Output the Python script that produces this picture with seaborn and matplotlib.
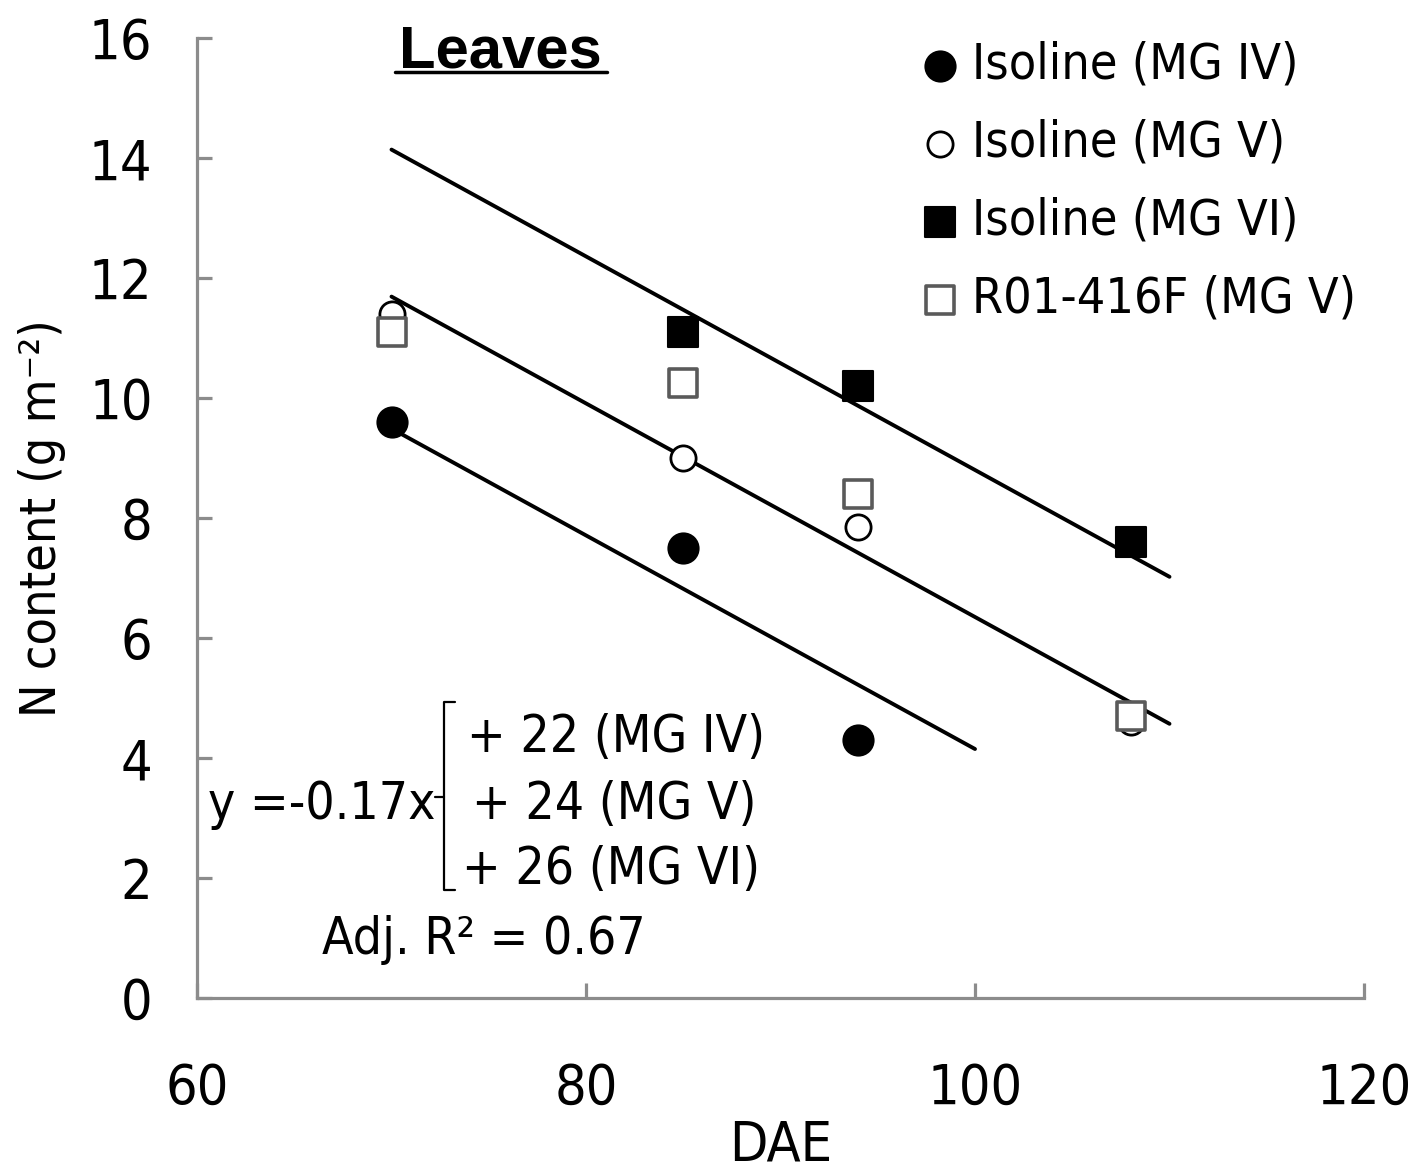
import matplotlib
matplotlib.use("Agg")
import matplotlib.pyplot as plt
import seaborn as sns
import numpy as np
import pandas as pd

# ---- data ----
series_names = ["Isoline (MG IV)", "Isoline (MG V)", "Isoline (MG VI)", "R01-416F (MG V)"]
dae_mg4 = [70, 85, 94]
n_mg4 = [9.6, 7.5, 4.3]
dae_mg5 = [70, 85, 94, 108]
n_mg5 = [11.4, 9.0, 7.85, 4.6]
dae_mg6 = [85, 94, 108]
n_mg6 = [11.1, 10.2, 7.6]
dae_r01 = [70, 85, 94, 108]
n_r01 = [11.1, 10.25, 8.4, 4.7]

# regression lines (common slope, separate intercepts)
fit_slope = -0.178
fit_intercepts = [21.95, 24.15, 26.6]
fit_x_ranges = [(70, 100), (70, 110), (70, 110)]

x_ticks = [60, 80, 100, 120]
y_ticks = [0, 2, 4, 6, 8, 10, 12, 14, 16]

eq_lines = ["+ 22 (MG IV)", "+ 24 (MG V)", "+ 26 (MG VI)"]

# ---- style ----
sns.set_theme(style="white")
plt.rcParams['font.family'] = ['DejaVu Sans']
plt.rcParams['font.stretch'] = 'condensed'
plt.rcParams['text.color'] = 'black'
plt.rcParams['axes.labelcolor'] = 'black'

fig = plt.figure(figsize=(14.16, 11.75), dpi=100)
ax = fig.add_axes([197/1416, 1 - 998/1175, (1364-197)/1416, (998-38)/1175])

spine_c = "#8c8c8c"

# regression lines
for b, (x0, x1) in zip(fit_intercepts, fit_x_ranges):
    xs = np.array([x0, x1], dtype=float)
    df_line = pd.DataFrame({"x": xs, "y": b + fit_slope * xs})
    sns.lineplot(data=df_line, x="x", y="y", ax=ax, color="black", linewidth=2.8, zorder=2)

# scatter series
styles = [
    dict(marker="o", s=470, facecolor="black", edgecolor="black", linewidth=1.5),
    dict(marker="o", s=330, facecolor="white", edgecolor="black", linewidth=2.0),
    dict(marker="s", s=450, facecolor="black", edgecolor="black", linewidth=1.5),
    dict(marker="s", s=400, facecolor="white", edgecolor="#5a5a5a", linewidth=2.6),
]
datasets = [(dae_mg4, n_mg4), (dae_mg5, n_mg5), (dae_mg6, n_mg6), (dae_r01, n_r01)]
for name, (xv, yv), st in zip(series_names, datasets, styles):
    df = pd.DataFrame({"x": xv, "y": yv})
    sns.scatterplot(data=df, x="x", y="y", ax=ax, label=name, zorder=3,
                    marker=st["marker"], s=st["s"], color=st["facecolor"],
                    edgecolor=st["edgecolor"], linewidth=st["linewidth"])

ax.set_xlim(60, 120)
ax.set_ylim(0, 16)
ax.set_xticks(x_ticks)
ax.set_yticks(y_ticks)
ax.set_xticklabels([str(t) for t in x_ticks])
ax.set_yticklabels([str(t) for t in y_ticks])

for s in ["top", "right"]:
    ax.spines[s].set_visible(False)
for s in ["left", "bottom"]:
    ax.spines[s].set_color(spine_c)
    ax.spines[s].set_linewidth(2.3)
ax.tick_params(axis="both", direction="in", length=11, width=2.3, color=spine_c,
               labelsize=40, labelcolor="black", bottom=True, left=True)
ax.tick_params(axis="x", pad=46)
ax.tick_params(axis="y", pad=32)

ax.set_xlabel("DAE", fontsize=40, labelpad=2)
ax.set_ylabel("N content (g m⁻²)", fontsize=36)
ax.yaxis.set_label_coords(-0.112, 0.5)

# legend
leg = ax.legend(loc="upper left", bbox_to_anchor=((920-197)/1167, 0.997), frameon=False,
                fontsize=36, handlelength=0.8, handletextpad=0.25, labelspacing=0.6,
                borderaxespad=0.0, borderpad=0.0, markerscale=1.0)

# title
ax.text(0.26, 0.985, "Leaves", transform=ax.transAxes, ha="center", va="center",
        fontsize=43, fontweight="bold", family=["Liberation Sans", "DejaVu Sans"],
        fontstretch="normal")
ax.plot([0.170, 0.351], [0.965, 0.965], transform=ax.transAxes, color="black",
        linewidth=2.5, clip_on=False)

# equation annotation
ax.text((435-197)/1167, (998-805)/960, "y =-0.17x", transform=ax.transAxes,
        ha="right", va="center", fontsize=37)
bx = (444-197)/1167
ax.plot([bx + 0.009, bx, bx, bx + 0.009], [(998-702)/960, (998-702)/960, (998-890)/960, (998-890)/960],
        transform=ax.transAxes, color="black", linewidth=1.6)
ax.plot([bx - 0.008, bx], [(998-797)/960, (998-797)/960], transform=ax.transAxes,
        color="black", linewidth=1.6)
eq_y = [738, 805, 870]
eq_x = [467, 472, 462]
for t, yy, xx in zip(eq_lines, eq_y, eq_x):
    ax.text((xx-197)/1167, (998-yy)/960, t, transform=ax.transAxes, ha="left", va="center",
            fontsize=37)
ax.text((484-197)/1167, (998-940)/960, "Adj. R² = 0.67", transform=ax.transAxes,
        ha="center", va="center", fontsize=37)

fig.savefig("out.png", dpi=100)
